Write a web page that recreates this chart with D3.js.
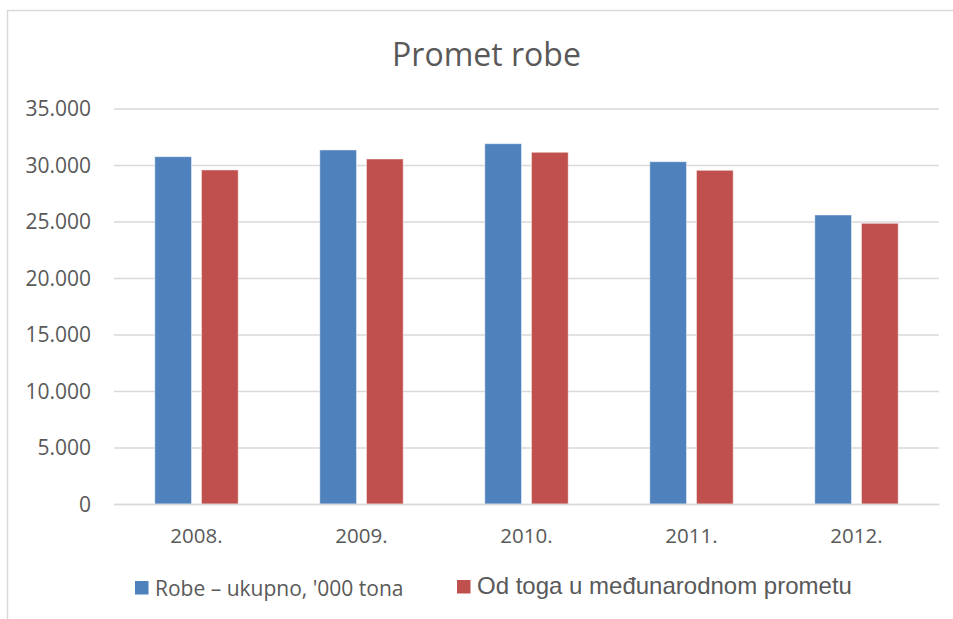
<!DOCTYPE html>
<meta charset="utf-8">
<title>Promet robe</title>
<style>
body {
  margin: 0px;
  background: white;
}
.tick text {
  font-family: "Open Sans", sans-serif;
  fill: #595959;
}
</style>
<body>
<svg id="chart" width="953" height="619"></svg>
</body>
<script src="https://d3js.org/d3.v7.min.js"></script>
<script type="text/javascript">

// Chart data
var years = ["2008.", "2009.", "2010.", "2011.", "2012."];
var seriesNames = ["Robe – ukupno, '000 tona", "Od toga u međunarodnom prometu"];
var robeUkupno = [30735, 31330, 31885, 30290, 25575];
var medunarodni = [29560, 30530, 31125, 29530, 24840];
var yTicks = [0, 5000, 10000, 15000, 20000, 25000, 30000, 35000];
var colors = ["#4F81BD", "#C0504D"];

var svg = d3.select("#chart");

// Outer frame of the chart (left and top edges only are visible)
svg.append("rect")
  .attr("x", 7.5).attr("y", 10.5)
  .attr("width", 960).attr("height", 620)
  .attr("fill", "none")
  .attr("stroke", "#d9d9d9")
  .attr("stroke-width", 1.5);

// Scales
var x0 = d3.scaleBand().domain(years).range([114, 939]);
var x1 = d3.scaleBand().domain([0, 1]).range([40.8, 124.2]).paddingInner(0.214);
var y = d3.scaleLinear().domain([0, 35000]).range([504, 108.5]);

// Gridlines + y labels
var yAxis = d3.axisLeft(y)
  .tickValues(yTicks)
  .tickSize(-(939 - 114))
  .tickPadding(23)
  .tickFormat(function(d){ return d === 0 ? "0" : d3.format(",")(d).replace(/,/g, "."); });

var gy = svg.append("g")
  .attr("transform", "translate(114,0)")
  .call(yAxis);
gy.select(".domain").remove();
gy.selectAll(".tick line")
  .attr("stroke", "#d9d9d9")
  .attr("stroke-width", 1.5);
gy.selectAll(".tick text")
  .attr("font-size", 21)
  .attr("dy", "0.35em");

// Bars
var table = years.map(function(yr, i){
  return {year: yr, values: [robeUkupno[i], medunarodni[i]]};
});

var groups = svg.append("g").selectAll("g")
  .data(table)
  .enter()
  .append("g")
  .attr("transform", function(d){ return "translate(" + x0(d.year) + ",0)"; });

groups.selectAll("rect")
  .data(function(d){ return d.values.map(function(v, k){ return {k: k, v: v}; }); })
  .enter()
  .append("rect")
  .attr("x", function(d){ return x1(d.k); })
  .attr("y", function(d){ return y(d.v); })
  .attr("width", x1.bandwidth())
  .attr("height", function(d){ return y(0) - y(d.v); })
  .attr("fill", function(d){ return colors[d.k]; })
  .attr("stroke", "white")
  .attr("stroke-opacity", 0.45)
  .attr("stroke-width", 1);

// X axis
var xAxis = d3.axisBottom(x0).tickSize(0).tickPadding(24);
var gx = svg.append("g")
  .attr("transform", "translate(0," + y(0) + ")")
  .call(xAxis);
gx.select(".domain")
  .attr("stroke", "#d9d9d9")
  .attr("stroke-width", 1.5);
gx.selectAll(".tick text")
  .attr("font-size", 20.5)
  .attr("dy", "0.71em");

// Title
svg.append("text")
  .attr("x", 486.5).attr("y", 66)
  .attr("text-anchor", "middle")
  .attr("font-family", "'Open Sans', sans-serif")
  .attr("font-size", 32)
  .attr("fill", "#595959")
  .text("Promet robe");

// Legend
var legendItems = [
  {x: 135, sy: 581, ty: 596, font: "'Open Sans', sans-serif", size: 21},
  {x: 457, sy: 580, ty: 593.5, font: "'Liberation Sans', Arial, sans-serif", size: 24}
];

var legend = svg.append("g").selectAll("g")
  .data(legendItems)
  .enter()
  .append("g");

legend.append("rect")
  .attr("x", function(d){ return d.x; })
  .attr("y", function(d){ return d.sy; })
  .attr("width", 13.5).attr("height", 13.5)
  .attr("fill", function(d, i){ return colors[i]; });

legend.append("text")
  .attr("x", function(d){ return d.x + 20; })
  .attr("y", function(d){ return d.ty; })
  .attr("font-family", function(d){ return d.font; })
  .attr("font-size", function(d){ return d.size; })
  .attr("fill", "#595959")
  .text(function(d, i){ return seriesNames[i]; });

</script>
